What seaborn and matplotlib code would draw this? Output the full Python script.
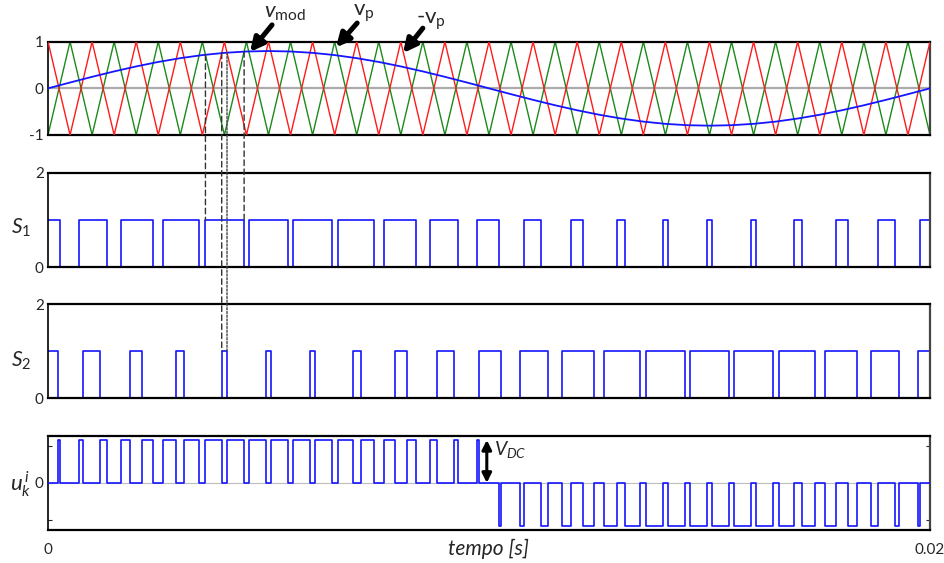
import numpy as np
import matplotlib
matplotlib.use("Agg")
import matplotlib.pyplot as plt
from matplotlib.patches import ConnectionPatch
import seaborn as sns

# ---------------- data ----------------
# carrier vertices every 0.5 ms (20 carrier periods in 0.02 s)
carrier_t_ms = [0.5 * k for k in range(41)]
vp_vertices = [-1, 1] * 20 + [-1]          # v_p (green)
nvp_vertices = [1, -1] * 20 + [1]          # -v_p (red)
# modulating signal sampled every 0.5 ms
vmod_half = [0, .125, .247, .363, .470, .566, .647, .713, .761, .790, .800,
             .790, .761, .713, .647, .566, .470, .363, .247, .125]
vmod_vals = vmod_half + [-v for v in vmod_half] + [0]
# switching edges (ms)
S1_start = 1
S1_edges = [0.267, 0.706, 1.331, 1.651, 2.386, 2.604, 3.426, 3.570, 4.447, 4.552,
            5.448, 5.553, 6.430, 6.574, 7.396, 7.614, 8.349, 8.669, 9.294, 9.733,
            10.235, 10.800, 11.178, 11.860, 12.126, 12.908, 13.085, 13.939, 14.059, 14.950,
            15.050, 15.941, 16.061, 16.915, 17.092, 17.874, 18.140, 18.822, 19.200, 19.765]
S2_start = 1
S2_edges = [0.235, 0.800, 1.178, 1.860, 2.126, 2.908, 3.085, 3.939, 4.059, 4.950,
            5.050, 5.941, 6.061, 6.915, 7.092, 7.874, 8.140, 8.822, 9.200, 9.765,
            10.267, 10.706, 11.331, 11.651, 12.386, 12.604, 13.426, 13.570, 14.447, 14.552,
            15.448, 15.553, 16.430, 16.574, 17.396, 17.614, 18.349, 18.669, 19.294, 19.733]
T_END_MS = 20.0
x_tick_labels = ["0", "0.02"]

# ---------------- style ----------------
sns.set_style("white")
plt.rcParams["font.family"] = ["Lato", "DejaVu Sans"]
plt.rcParams["mathtext.fontset"] = "custom"
plt.rcParams["mathtext.rm"] = "Lato"
plt.rcParams["mathtext.it"] = "Lato:italic"
plt.rcParams["mathtext.bf"] = "Lato:bold"

BLUE = "#1515ff"
RED = "#ff1a1a"
GREEN = "#1a8a1a"

W, H = 944, 563
fig = plt.figure(figsize=(W / 100, H / 100), dpi=100)


def add_ax(top_px, bot_px):
    l = 48 / W
    r = 930 / W
    return fig.add_axes([l, 1 - bot_px / H, r - l, (bot_px - top_px) / H])


ax1 = add_ax(41.7, 135.0)
ax2 = add_ax(172.7, 267.3)
ax3 = add_ax(304.3, 398.3)
ax4 = add_ax(435.7, 530.0)


def steps(edges, v0):
    xs, ys, v = [0.0], [v0], v0
    for e in edges:
        xs += [e / 1000, e / 1000]
        ys += [v, 1 - v]
        v = 1 - v
    xs.append(T_END_MS / 1000)
    ys.append(v)
    return xs, ys


def state(edges, v0, t):
    n = sum(1 for e in edges if e <= t)
    return v0 if n % 2 == 0 else 1 - v0


# ---------------- top: carriers + modulating ----------------
tc = [t / 1000 for t in carrier_t_ms]
ax1.axhline(0, color="#ababab", lw=1.6, zorder=1)
sns.lineplot(x=tc, y=vp_vertices, ax=ax1, color=GREEN, lw=1.0, sort=False, estimator=None, zorder=2)
sns.lineplot(x=tc, y=nvp_vertices, ax=ax1, color=RED, lw=1.0, sort=False, estimator=None, zorder=3)
sns.lineplot(x=tc, y=vmod_vals, ax=ax1, color=BLUE, lw=1.3, sort=False, estimator=None, zorder=4)
ax1.set_ylim(-1, 1)
ax1.set_yticks([-1, 0, 1])
ax1.set_yticklabels(["-1", "0", "1"])

# ---------------- S1, S2 ----------------
x1, y1 = steps(S1_edges, S1_start)
x2, y2 = steps(S2_edges, S2_start)
sns.lineplot(x=x1, y=y1, ax=ax2, color=BLUE, lw=1.2, sort=False, estimator=None)
sns.lineplot(x=x2, y=y2, ax=ax3, color=BLUE, lw=1.2, sort=False, estimator=None)
for ax in (ax2, ax3):
    ax.set_ylim(0, 2)
    ax.set_yticks([0, 2])
    ax.set_yticklabels(["0", "2"])

# ---------------- u = S1 - S2 ----------------
pts = sorted(set(S1_edges + S2_edges))
ux, uy = [0.0], [S1_start - S2_start]
cur = S1_start - S2_start
for p in pts:
    nv = state(S1_edges, S1_start, p) - state(S2_edges, S2_start, p)
    ux += [p / 1000, p / 1000]
    uy += [cur, nv]
    cur = nv
ux.append(T_END_MS / 1000)
uy.append(cur)
ax4.axhline(0, color="#bdbdbd", lw=0.8, zorder=1)
sns.lineplot(x=ux, y=uy, ax=ax4, color=BLUE, lw=1.2, sort=False, estimator=None, zorder=3)
ax4.set_ylim(-1.1, 1.1)
ax4.set_yticks([-0.86, 0, 0.86])
ax4.set_yticklabels(["", "0", ""])
ax4.tick_params(axis="y", direction="in", length=3, left=True, right=True, width=0.8)

# ---------------- axes cosmetics ----------------
for ax in (ax1, ax2, ax3, ax4):
    ax.set_xlim(0, T_END_MS / 1000)
    ax.set_xlabel("")
    ax.set_ylabel("")
    for side in ("top", "bottom"):
        ax.spines[side].set_color("black")
        ax.spines[side].set_linewidth(1.6)
    ax.spines["left"].set_color("black")
    ax.spines["left"].set_linewidth(1.2)
    ax.spines["right"].set_color("#444444")
    ax.spines["right"].set_linewidth(1.6)
    ax.tick_params(axis="y", labelsize=11, pad=3)
    if ax is not ax4:
        ax.tick_params(axis="y", length=0)
        ax.set_xticks([])
ax4.set_xticks([0, T_END_MS / 1000])
ax4.set_xticklabels(x_tick_labels)
ax4.tick_params(axis="x", length=0, labelsize=11, pad=9)
ax4.get_xticklabels()[0].set_horizontalalignment("center")
ax4.get_xticklabels()[1].set_horizontalalignment("center")

# ---------------- labels ----------------
def ftext(xp, yp, s, **kw):
    fig.text(xp / W, 1 - yp / H, s, **kw)


ftext(21, 228, r"$S_{\mathregular{1}}$", fontsize=15, ha="center", va="center")
ftext(21, 361, r"$S_{\mathregular{2}}$", fontsize=15, ha="center", va="center")
ftext(21, 484, r"$u_k^{\,i}$", fontsize=16, ha="center", va="center")
ftext(489, 549, "tempo [s]", fontsize=15, style="italic", ha="center", va="center")

# arrows in the top panel
arrow_kw = dict(arrowstyle="-|>", color="black", lw=3.6, mutation_scale=20,
                shrinkA=0, shrinkB=0)
ax1.annotate("", xy=(0.00458, 0.78), xytext=(0.00508, 1.36),
             xycoords="data", textcoords="data", arrowprops=arrow_kw, annotation_clip=False)
ax1.annotate("", xy=(0.00653, 0.88), xytext=(0.00701, 1.40),
             xycoords="data", textcoords="data", arrowprops=arrow_kw, annotation_clip=False)
ax1.annotate("", xy=(0.00805, 0.756), xytext=(0.00850, 1.29),
             xycoords="data", textcoords="data", arrowprops=arrow_kw, annotation_clip=False)
ftext(285, 13, r"$v_{\mathregular{mod}}$", fontsize=16, ha="center", va="center")
ftext(364, 13, r"$\mathregular{v_p}$", fontsize=16, ha="center", va="center")
ftext(431, 21, "-" + r"$\mathregular{v_p}$", fontsize=16, ha="center", va="center")

# V_DC arrow
ax4.annotate("", xy=(0.00995, 0.0), xytext=(0.00995, 1.0), xycoords="data",
             arrowprops=dict(arrowstyle="<|-|>", color="black", lw=2.2, mutation_scale=14,
                             shrinkA=0, shrinkB=0))
ftext(510, 450, r"$V_{DC}$", fontsize=14, ha="center", va="center")

# dashed guide lines
vm_t = [t / 1000 for t in carrier_t_ms]
guides = [(S1_edges[7], ax2, (0, (4, 2.5)), "#333333"),
          (S2_edges[7], ax3, (0, (4, 2.5)), "#333333"),
          (S2_edges[8], ax3, (0, (1.5, 1.2)), "#444444"),
          (S1_edges[8], ax2, (0, (4, 2.5)), "#333333")]
for t_ms, axb, ls, c in guides:
    t = t_ms / 1000
    yv = float(np.interp(t, vm_t, vmod_vals))
    con = ConnectionPatch(xyA=(t, yv), coordsA=ax1.transData,
                          xyB=(t, 1.0), coordsB=axb.transData,
                          color=c, lw=1.0, linestyle=ls, zorder=10)
    fig.add_artist(con)

fig.savefig("out.png", dpi=100)
